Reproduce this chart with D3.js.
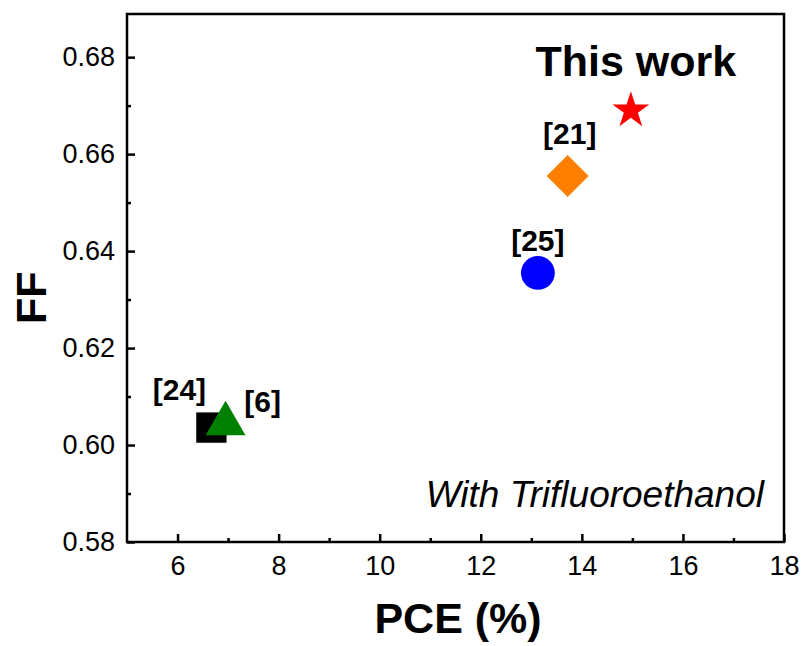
<!DOCTYPE html>
<html>
<head>
<meta charset="utf-8">
<script src="https://cdn.jsdelivr.net/npm/d3@7"></script>
<style>
  body { margin: 0; background: #fff; }
  text { font-family: "Liberation Sans", Arial, sans-serif; fill: #000; }
</style>
</head>
<body>
<svg id="chart"></svg>
<script>
// data
var refLabels = ["[24]", "[6]", "[25]", "[21]", "This work"];
var pceValues = [6.67, 6.95, 13.13, 13.72, 14.97];
var ffValues = [0.6036, 0.6044, 0.6355, 0.6555, 0.669];
var markerShapes = ["square", "triangle", "circle", "diamond", "star"];
var markerColors = ["#000000", "#008000", "#0000ff", "#ff8000", "#ff0000"];

var xTicks = [6, 8, 10, 12, 14, 16, 18];
var xMinorTicks = [7, 9, 11, 13, 15, 17];
var yTicks = [0.58, 0.60, 0.62, 0.64, 0.66, 0.68];
var yMinorTicks = [0.59, 0.61, 0.63, 0.65, 0.67];

// label placement relative to its marker (px)
var labelDx = [-32, 37, 0, 2, 5];
var labelDy = [-28, -12, -22, -32, -34];
var labelSize = [30, 30, 30, 30, 43];

var width = 804, height = 646;
var margin = {top: 14, left: 127, bottom: 104, right: 20};
var plotW = width - margin.left - margin.right;
var plotH = height - margin.top - margin.bottom;

var svg = d3.select("#chart")
    .attr("width", width)
    .attr("height", height);

var g = svg.append("g")
    .attr("transform", "translate(" + margin.left + "," + margin.top + ")");

var xScale = d3.scaleLinear().domain([5, 18]).range([0, plotW]);
var yScale = d3.scaleLinear().domain([0.58, 0.6889]).range([plotH, 0]);

// frame
g.append("rect")
    .attr("width", plotW)
    .attr("height", plotH)
    .attr("fill", "none")
    .attr("stroke", "#000")
    .attr("stroke-width", 2.5);

// x axis
g.append("g")
    .attr("transform", "translate(0," + plotH + ")")
    .call(d3.axisBottom(xScale).tickValues(xTicks).tickSize(-8).tickPadding(14)
        .tickFormat(d3.format("d")));
g.append("g")
    .attr("transform", "translate(0," + plotH + ")")
    .call(d3.axisBottom(xScale).tickValues(xMinorTicks).tickSize(-4).tickFormat(""));

// y axis
g.append("g")
    .call(d3.axisLeft(yScale).tickValues(yTicks).tickSize(-8).tickPadding(12)
        .tickFormat(d3.format(".2f")));
g.append("g")
    .call(d3.axisLeft(yScale).tickValues(yMinorTicks).tickSize(-4).tickFormat(""));

g.selectAll(".domain").remove();
g.selectAll(".tick line").attr("stroke", "#000").attr("stroke-width", 2.5);
g.selectAll(".tick text")
    .style("font-family", "'Liberation Sans', Arial, sans-serif")
    .attr("font-size", 27)
    .attr("fill", "#000");

// axis titles
svg.append("text")
    .attr("x", margin.left + xScale(11.55))
    .attr("y", 633)
    .attr("text-anchor", "middle")
    .attr("font-size", 43)
    .attr("font-weight", "bold")
    .text("PCE (%)");

svg.append("text")
    .attr("transform", "translate(46," + (margin.top + yScale(0.6304)) + ") rotate(-90)")
    .attr("text-anchor", "middle")
    .attr("font-size", 43)
    .attr("font-weight", "bold")
    .text("FF");

// markers
var symbolOf = {
    square: {type: d3.symbolSquare, size: 920, rotate: 0},
    triangle: {type: d3.symbolTriangle, size: 690, rotate: 0},
    circle: {type: d3.symbolCircle, size: 900, rotate: 0},
    diamond: {type: d3.symbolSquare, size: 880, rotate: 45},
    star: {type: d3.symbolStar, size: 420, rotate: 0}
};

var points = pceValues.map(function (d, i) {
    return {pce: d, ff: ffValues[i], shape: markerShapes[i], color: markerColors[i],
        label: refLabels[i], dx: labelDx[i], dy: labelDy[i], size: labelSize[i]};
});

g.selectAll(".marker")
    .data(points)
    .enter()
    .append("path")
    .attr("class", "marker")
    .attr("d", function (d) {
        var s = symbolOf[d.shape];
        return d3.symbol().type(s.type).size(s.size)();
    })
    .attr("transform", function (d) {
        return "translate(" + xScale(d.pce) + "," + yScale(d.ff) + ") rotate(" + symbolOf[d.shape].rotate + ")";
    })
    .attr("fill", function (d) { return d.color; });

g.selectAll(".refLabel")
    .data(points)
    .enter()
    .append("text")
    .attr("class", "refLabel")
    .attr("x", function (d) { return xScale(d.pce) + d.dx; })
    .attr("y", function (d) { return yScale(d.ff) + d.dy; })
    .attr("text-anchor", "middle")
    .attr("font-size", function (d) { return d.size; })
    .attr("font-weight", "bold")
    .text(function (d) { return d.label; });

// annotation
g.append("text")
    .attr("x", plotW - 20)
    .attr("y", 493)
    .attr("text-anchor", "end")
    .attr("font-size", 37)
    .attr("font-style", "italic")
    .text("With Trifluoroethanol");
</script>
</body>
</html>
